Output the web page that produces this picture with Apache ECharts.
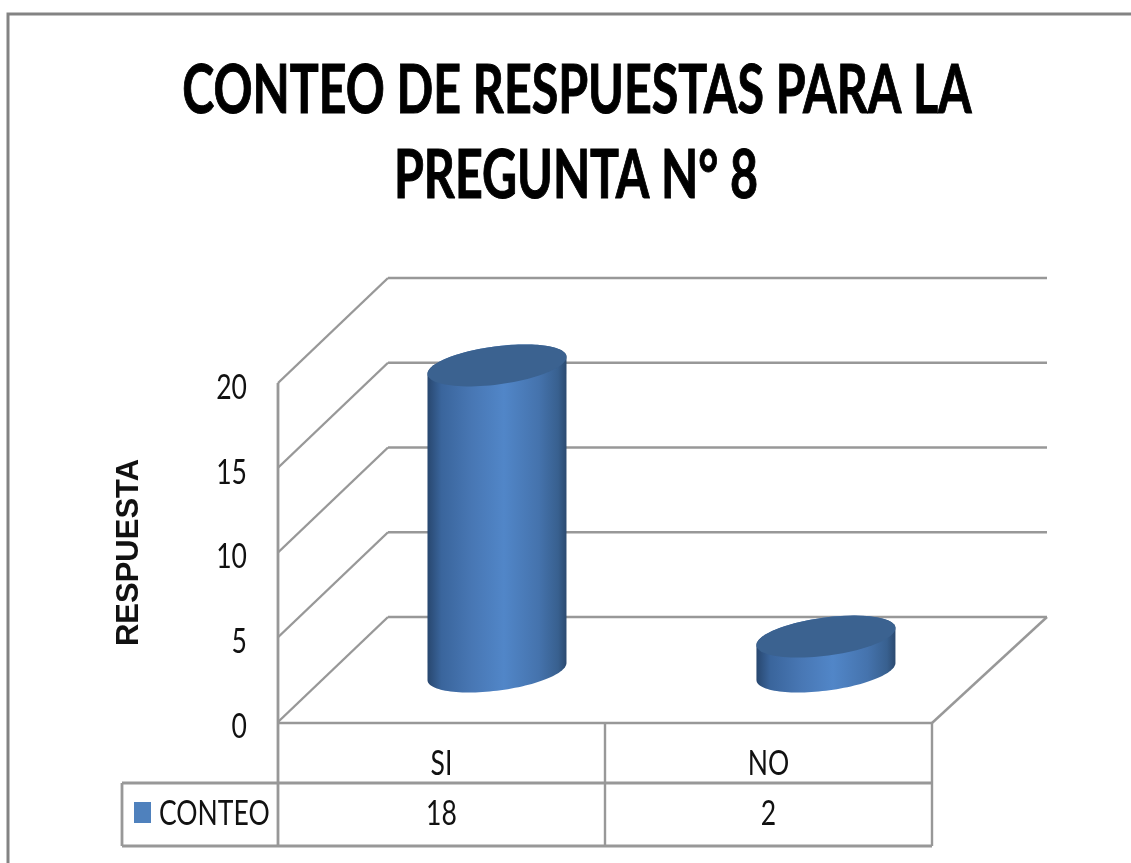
<!DOCTYPE html>
<html><head><meta charset="utf-8">
<style>html,body{margin:0;padding:0;background:#fff}#c{width:1131px;height:863px}</style>
<script src="https://cdn.jsdelivr.net/npm/echarts@6/dist/echarts.min.js"></script>
</head><body><div id="c"></div>
<script>
const titleLines = ['CONTEO DE RESPUESTAS PARA LA', 'PREGUNTA N° 8'];
const yAxisTitle = 'RESPUESTA';
const seriesName = 'CONTEO';
const categories = ['SI', 'NO'];
const conteo = [18, 2];
const yTicks = [0, 5, 10, 15, 20];

const FONT = 'Lato';
const LINE = '#989898';
const DX = 110, DY = 105;
const RX = 69.5, SK = 8.5, RY = 19.2;

const chart = echarts.init(document.getElementById('c'), null, {renderer: 'canvas'});

function ring(cx, cy, from, to, n) {
  const pts = [];
  for (let i = 0; i <= n; i++) {
    const t = from + (to - from) * i / n;
    pts.push([cx + RX * Math.cos(t), cy - SK * Math.cos(t) + RY * Math.sin(t)]);
  }
  return pts;
}
function seg(x1, y1, x2, y2, w) {
  return {type: 'line', shape: {x1, y1, x2, y2}, style: {stroke: LINE, lineWidth: w || 2.4}};
}
function narrowText(text, x, y, align) {
  return {type: 'text', x, y, scaleX: 0.78, style: {
    text, fontFamily: FONT, fontSize: 34, fill: '#111',
    textAlign: align || 'center', textVerticalAlign: 'middle'}};
}

chart.setOption({
  animation: false,
  backgroundColor: '#fff',
  grid: {left: 278, top: 383, width: 654, height: 339},
  legend: {
    data: [seriesName], left: 129, top: 797, icon: 'rect', itemWidth: 17, itemHeight: 21, itemGap: 0,
    formatter: () => ' ', textStyle: {fontSize: 10}
  },
  xAxis: {
    type: 'category', data: categories, axisLine: {show: false}, axisTick: {show: false},
    axisLabel: {show: false}
  },
  yAxis: {
    type: 'value', min: 0, max: 20, interval: 5, splitLine: {show: false},
    axisLine: {show: false}, axisTick: {show: false}, axisLabel: {show: false},
    name: yAxisTitle, nameLocation: 'middle', nameRotate: 90, nameGap: 133,
    nameTextStyle: {fontFamily: '"Liberation Sans",sans-serif', fontWeight: 'bold', fontSize: 31, color: '#111'}
  },
  graphic: [
    {type: 'polyline', silent: true, z: -1, shape: {points: [[8, 863], [8, 14], [1131, 14]]},
      style: {stroke: '#838383', fill: null, lineWidth: 3}},
    {type: 'text', z: 5, x: 577, y: 92, scaleX: 0.732, style: {text: titleLines[0], fontFamily: FONT, fontWeight: 'bold', fontSize: 66, fill: '#000', stroke: '#000', lineWidth: 1, textAlign: 'center', textVerticalAlign: 'middle'}},
    {type: 'text', z: 5, x: 576, y: 177, scaleX: 0.732, style: {text: titleLines[1], fontFamily: FONT, fontWeight: 'bold', fontSize: 66, fill: '#000', stroke: '#000', lineWidth: 1, textAlign: 'center', textVerticalAlign: 'middle'}},
    {type: 'text', z: 5, x: 159, y: 814, scaleX: 0.78, style: {text: seriesName, fontFamily: FONT, fontSize: 34, fill: '#111', textAlign: 'left', textVerticalAlign: 'middle'}}
  ],
  series: [
    {
      type: 'custom', name: 'frame', silent: true, z: 1, data: yTicks.map(t => [0, t]),
      encode: {x: 0, y: 1},
      renderItem(params, api) {
        const cs = params.coordSys;
        const t = api.value(1);
        const y = api.coord([0, t])[1];
        const L = cs.x, R = cs.x + cs.width;
        const kids = [
          seg(L, y, L + DX, y - DY),
          seg(L + DX, y - DY, R + DX + 5, y - DY),
          narrowText(String(t), 247, y + 5, 'right')
        ];
        if (t === 0) {
          kids.push(seg(L, y + 1, R, y + 1), seg(R, y + 1, R + DX + 5, y - DY));
          kids.push(seg(L, cs.y, L, y + 124, 2.8));
          const mid = L + cs.width / 2;
          kids.push(seg(mid, y + 1, mid, y + 124), seg(R, y + 1, R, y + 124));
          kids.push(seg(L - 156, y + 61, R, y + 61, 2.8), seg(L - 156, y + 124, R, y + 124, 2.8));
          kids.push(seg(L - 156, y + 61, L - 156, y + 124, 2.8));
        }
        return {type: 'group', children: kids};
      }
    },
    {
      type: 'custom', name: seriesName, z: 3, itemStyle: {color: '#4F81BD'},
      data: categories.map((c, i) => [i, conteo[i]]), encode: {x: 0, y: 1},
      renderItem(params, api) {
        const cs = params.coordSys;
        const v = api.value(1);
        const base = api.coord([api.value(0), 0]);
        const top = api.coord([api.value(0), v]);
        const cx = cs.x + (base[0] - cs.x) * 1.006 + DX / 2 - 0.5, by = base[1] - DY / 2 + 2, ty = top[1] - DY / 2 + 1;
        const body = ring(cx, by, Math.PI, 0, 60).concat(ring(cx, ty, 0, -Math.PI, 60));
        return {type: 'group', children: [
          {type: 'polygon', shape: {points: body}, style: {
            fill: new echarts.graphic.LinearGradient(0, 0, 1, 0, [
              {offset: 0, color: '#28476f'},
              {offset: 0.1, color: '#3a659c'},
              {offset: 0.32, color: '#4877b4'},
              {offset: 0.55, color: '#5186c8'},
              {offset: 0.8, color: '#4573ad'},
              {offset: 0.94, color: '#38608f'},
              {offset: 1, color: '#2b4a70'}
            ])}},
          {type: 'polygon', shape: {points: ring(cx, ty, 0, 2 * Math.PI, 90)}, style: {fill: '#3b6290'}}
        ]};
      }
    },
    {
      type: 'custom', name: 'table', silent: true, z: 4,
      data: categories.map((c, i) => [i, conteo[i]]), encode: {x: 0, y: 1},
      renderItem(params, api) {
        const i = api.value(0);
        const base = api.coord([i, 0]);
        return {type: 'group', children: [
          narrowText(categories[i], base[0], base[1] + 42),
          narrowText(String(api.value(1)), base[0], base[1] + 92)
        ]};
      }
    }
  ]
});
</script></body></html>
